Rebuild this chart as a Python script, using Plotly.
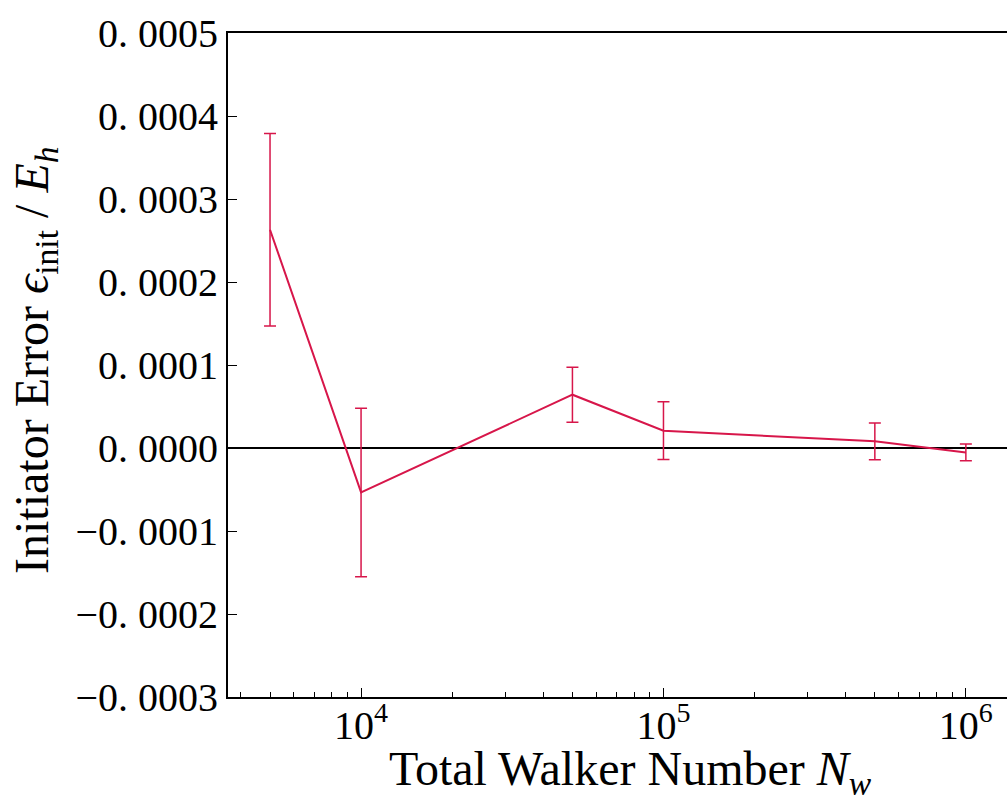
import plotly.graph_objects as go

# Total walker number and initiator error (Hartree) with statistical error bars
walkers = [5e3, 1e4, 5e4, 1e5, 5e5, 1e6]
init_error = [0.000263, -0.0000535, 0.0000642, 0.0000208, 0.0000080, -0.0000053]
init_error_err = [0.000116, 0.0001015, 0.0000331, 0.0000348, 0.0000221, 0.0000102]

y_tickvals = [-0.0003, -0.0002, -0.0001, 0.0, 0.0001, 0.0002, 0.0003, 0.0004, 0.0005]
y_ticktext = ["\u22120. 0003", "\u22120. 0002", "\u22120. 0001", "0. 0000",
              "0. 0001", "0. 0002", "0. 0003", "0. 0004", "0. 0005"]
x_tickvals = [1e4, 1e5, 1e6]
x_ticktext = ["10<sup>4</sup>", "10<sup>5</sup>", "10<sup>6</sup>"]

x_title = "Total Walker Number <i>N</i><sub><i>w</i></sub>"
y_title = "Initiator Error <i>\u03f5</i><sub>init</sub> / <i>E</i><sub><i>h</i></sub>"

# minor log ticks between decades
minor_vals = [m * 10 ** d for d in (3, 4, 5) for m in range(2, 10)]

color = "#d7164a"
font_family = "Liberation Serif"

fig = go.Figure()
fig.add_trace(go.Scatter(
    x=walkers,
    y=init_error,
    mode="lines",
    line=dict(color=color, width=2),
    error_y=dict(type="data", array=init_error_err, visible=True,
                 color=color, thickness=1.5, width=6),
    showlegend=False,
))

fig.update_layout(
    width=1007,
    height=796,
    margin=dict(l=228, r=0, t=33, b=99),
    paper_bgcolor="white",
    plot_bgcolor="white",
    font=dict(family=font_family, size=40, color="black"),
)

fig.update_xaxes(
    type="log",
    range=[3.56, 6.136],
    showgrid=False,
    showline=True,
    linecolor="black",
    linewidth=2,
    mirror=True,
    ticks="inside",
    ticklen=9,
    tickwidth=1,
    tickcolor="black",
    tickvals=x_tickvals,
    ticktext=x_ticktext,
    tickfont=dict(size=40),
    ticklabelstandoff=-8,
    minor=dict(ticks="inside", ticklen=5, tickwidth=1, tickcolor="black",
               tickvals=minor_vals, showgrid=False),
)

fig.update_yaxes(
    range=[-0.0003, 0.0005],
    showgrid=False,
    showline=True,
    linecolor="black",
    linewidth=2,
    mirror=False,
    ticks="inside",
    ticklen=9,
    tickwidth=1,
    tickcolor="black",
    tickvals=y_tickvals,
    ticktext=y_ticktext,
    tickfont=dict(size=40),
    zeroline=True,
    zerolinecolor="black",
    zerolinewidth=1.5,
)

# axis titles placed explicitly below / left of the tick labels
fig.add_annotation(text=x_title, xref="paper", yref="paper",
                   x=0.517, y=-0.113, xanchor="center", yanchor="middle",
                   showarrow=False, font=dict(size=48))
fig.add_annotation(text=y_title, xref="paper", yref="paper",
                   x=-0.2478, y=0.5075, xanchor="center", yanchor="middle",
                   textangle=-90, showarrow=False, font=dict(size=48))

fig.write_html("out.html")
